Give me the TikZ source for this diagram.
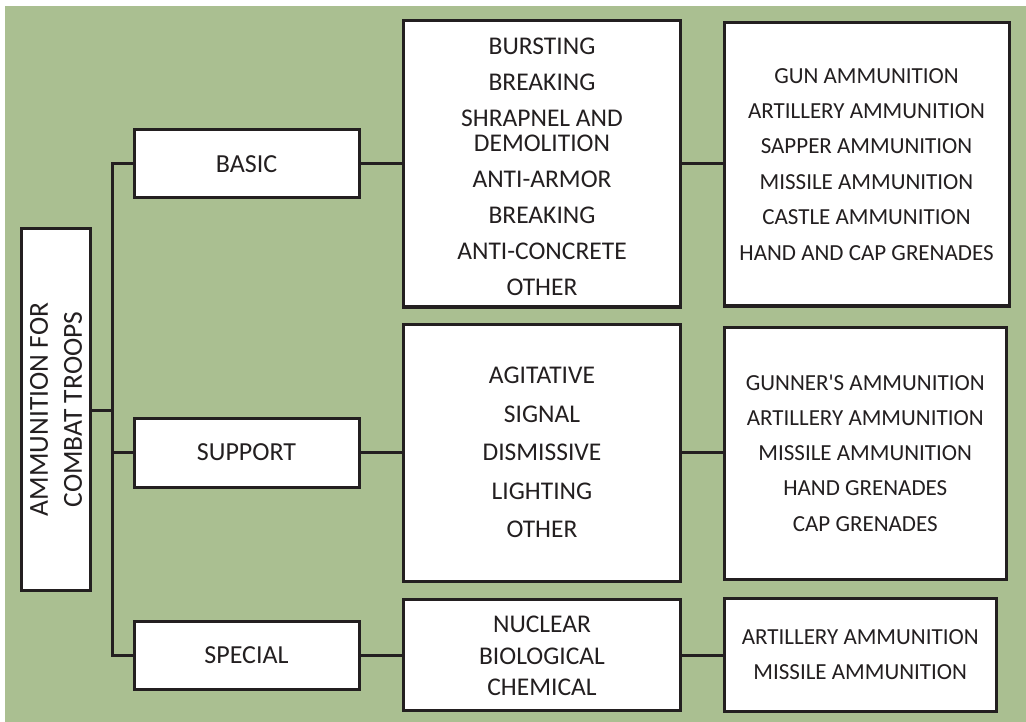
\documentclass[tikz,border=0pt]{standalone}
\usepackage{fontspec}
\setmainfont{Carlito}
\newfontfamily\straight{Carlito}
\definecolor{bggreen}{HTML}{AABF91}
\definecolor{ink}{HTML}{231F20}
\begin{document}
\begin{tikzpicture}[x=1pt,y=-1pt,
  box/.style={draw=ink,fill=white,line width=3pt,inner sep=0pt,align=center,text=ink,
    font=\fontsize{23}{36}\selectfont},
  catbox/.style={box,minimum width=225pt,font=\fontsize{26}{30}\selectfont},
  midbox/.style={box,minimum width=276.5pt},
  link/.style={draw=ink,line width=3pt}]
\useasboundingbox (0,0) rectangle (1026,722);
\fill[bggreen] (5,6) rectangle (1026,722);
% root
\node[box,minimum width=361pt,minimum height=69.5pt,rotate=90,font=\fontsize{27.5}{34}\selectfont] (root) at (56,409.5) {AMMUNITION FOR\\COMBAT TROOPS};
% level 1
\node[catbox,minimum height=68pt] (basic) at (246.5,164) {BASIC};
\node[catbox,minimum height=69pt] (support) at (246.5,452.5) {SUPPORT};
\node[catbox,minimum height=68pt] (special) at (246.5,655) {SPECIAL};
% level 2
\node[midbox,minimum height=286.5pt,font=\fontsize{25.5}{36}\selectfont] (mid1) at (542,163.75)
  {\rule{0pt}{22pt}BURSTING\\BREAKING\\SHRAPNEL AND\\[-11pt]DEMOLITION\\ANTI-ARMOR\\BREAKING\\ANTI-CONCRETE\\OTHER};
\node[midbox,minimum height=257pt,font=\fontsize{25.5}{38.5}\selectfont] (mid2) at (542,452.5)
  {AGITATIVE\\SIGNAL\\DISMISSIVE\\LIGHTING\\OTHER};
\node[midbox,minimum height=111pt,font=\fontsize{25.5}{31.5}\selectfont] (mid3) at (542,654.5)
  {\rule{0pt}{20pt}NUCLEAR\\BIOLOGICAL\\CHEMICAL};
% level 3
\node[box,minimum width=285pt,minimum height=283.5pt,font=\fontsize{23}{35.4}\selectfont] (right1) at (866.5,164.25)
  {GUN AMMUNITION\\ARTILLERY AMMUNITION\\SAPPER AMMUNITION\\MISSILE AMMUNITION\\CASTLE AMMUNITION\\HAND AND CAP GRENADES};
\node[box,minimum width=282.5pt,minimum height=252pt,font=\fontsize{23}{35.3}\selectfont] (right2) at (865.25,453)
  {GUNNER{\straight'}S AMMUNITION\\ARTILLERY AMMUNITION\\MISSILE AMMUNITION\\HAND GRENADES\\CAP GRENADES};
\node[box,minimum width=272.5pt,minimum height=112.5pt,font=\fontsize{23}{35}\selectfont] (right3) at (860.25,655)
  {ARTILLERY AMMUNITION\\MISSILE AMMUNITION};
% connectors
\coordinate (trunkTop) at (112,164);
\coordinate (trunkBot) at (112,655);
\coordinate (trunkRoot) at (112,410);
\draw[link] (root.south |- trunkRoot) -- (trunkRoot);
\draw[link,line cap=rect] (trunkTop) -- (trunkBot);
\draw[link] (trunkTop) -- (basic.west);
\draw[link] (trunkTop |- support.west) -- (support.west);
\draw[link] (trunkBot) -- (special.west);
\draw[link] (basic.east) -- (basic.east -| mid1.west);
\draw[link] (support.east) -- (support.east -| mid2.west);
\draw[link] (special.east) -- (special.east -| mid3.west);
\draw[link] (mid1.east |- basic.east) -- (basic.east -| right1.west);
\draw[link] (mid2.east |- support.east) -- (support.east -| right2.west);
\draw[link] (mid3.east |- special.east) -- (special.east -| right3.west);
\end{tikzpicture}
\end{document}
